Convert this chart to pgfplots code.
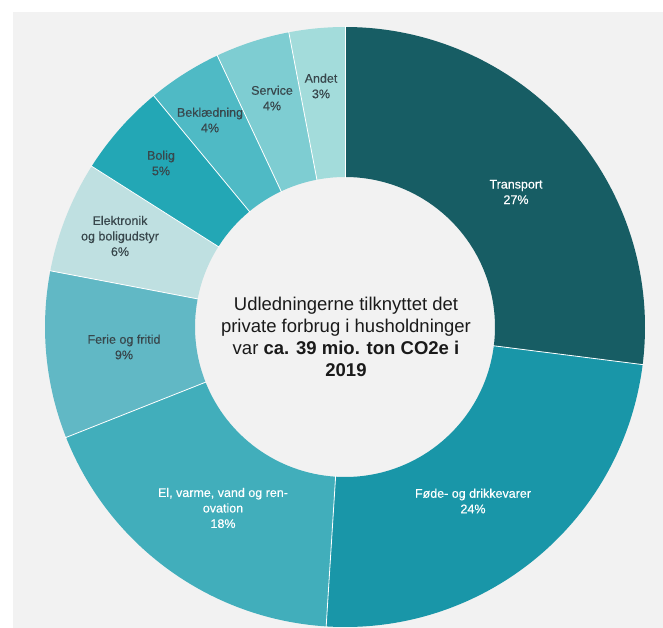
\documentclass[border=0pt]{standalone}
\usepackage{pgfplots}
\pgfplotsset{compat=1.18}
\usepackage{pgfplotstable}
\usepackage{fontspec}
\setmainfont{Liberation Sans}
\newfontfamily\labfont{Liberation Sans}[FakeBold=0.35]
\definecolor{bg}{HTML}{F2F2F2}
\definecolor{seg0}{HTML}{175D64}
\definecolor{seg1}{HTML}{1996A8}
\definecolor{seg2}{HTML}{41AEBB}
\definecolor{seg3}{HTML}{61B8C5}
\definecolor{seg4}{HTML}{BFE0E1}
\definecolor{seg5}{HTML}{23A7B5}
\definecolor{seg6}{HTML}{4FBAC5}
\definecolor{seg7}{HTML}{7ECDD2}
\definecolor{seg8}{HTML}{A3DCDB}
\definecolor{darktxt}{HTML}{38474C}
\definecolor{centertxt}{HTML}{1A1A1A}

\pgfplotstableread[col sep=comma]{
share
27
24
18
9
6
5
4
4
3
}\sharetable

\newcommand\SA[1]{\csname sa#1\endcsname}
\newcommand\EA[1]{\csname ea#1\endcsname}

\begin{document}
\gdef\cum{0}%
\pgfplotsforeachungrouped \i in {0,...,8}{%
  \pgfplotstablegetelem{\i}{share}\of\sharetable
  \pgfmathsetmacro\tmpsa{90-3.6*\cum}%
  \pgfmathsetmacro\tmpcum{\cum+\pgfplotsretval}%
  \pgfmathsetmacro\tmpea{90-3.6*\tmpcum}%
  \expandafter\xdef\csname sa\i\endcsname{\tmpsa}%
  \expandafter\xdef\csname ea\i\endcsname{\tmpea}%
  \xdef\cum{\tmpcum}%
}%
\begin{tikzpicture}
\useasboundingbox (0,0) rectangle (663pt,627pt);
\fill[white] (0,0) rectangle (663pt,627pt);
\clip (0,0) rectangle (663pt,627pt);
\begin{axis}[at={(0,0)}, anchor=south west, width=663pt, height=627pt,
  scale only axis, xmin=-345, xmax=318, ymin=-300, ymax=327,
  hide axis, clip=false]
\fill[bg] (axis cs:-332,-310) rectangle (axis cs:330,315);
\pgfplotsinvokeforeach{0,...,8}{%
  \fill[seg#1] (axis cs:{300*cos(\SA{#1})},{300*sin(\SA{#1})})
     arc[start angle=\SA{#1}, end angle=\EA{#1}, radius=300pt]
     -- (axis cs:{150*cos(\EA{#1})},{150*sin(\EA{#1})})
     arc[start angle=\EA{#1}, end angle=\SA{#1}, radius=150pt] -- cycle;
}
\pgfplotsinvokeforeach{0,...,8}{%
  \draw[white, line width=0.8pt] (axis cs:{149*cos(\SA{#1})},{149*sin(\SA{#1})})
     -- (axis cs:{301*cos(\SA{#1})},{301*sin(\SA{#1})});
}
\tikzset{lab/.style={align=center, font=\labfont\fontsize{12.5}{15.5}\selectfont}}
\node[lab, text=white] at (axis cs:171,135) {Transport\\27\%};
\node[lab, text=white] at (axis cs:128,-174) {Føde- og drikkevarer\\24\%};
\node[lab, text=white] at (axis cs:-122,-181) {El, varme, vand og ren-\\ovation\\18\%};
\node[lab, text=darktxt] at (axis cs:-221,-20) {Ferie og fritid\\9\%};
\node[lab, text=darktxt] at (axis cs:-225,91) {Elektronik\\og boligudstyr\\6\%};
\node[lab, text=darktxt] at (axis cs:-184,164) {Bolig\\5\%};
\node[lab, text=darktxt] at (axis cs:-135,207) {Beklædning\\4\%};
\node[lab, text=darktxt] at (axis cs:-73,229) {Service\\4\%};
\node[lab, text=darktxt] at (axis cs:-24,241) {Andet\\3\%};
\node[align=center, text=centertxt, font=\fontsize{18.5}{22}\selectfont] at (axis cs:1,-10)
  {Udledningerne tilknyttet det\\private forbrug i husholdninger\\var \textbf{ca. 39 mio. ton CO2e i}\\\textbf{2019}};
\end{axis}
\end{tikzpicture}
\end{document}
